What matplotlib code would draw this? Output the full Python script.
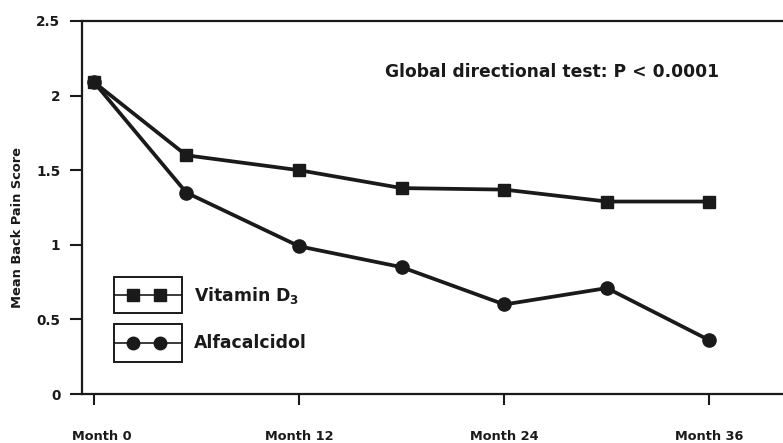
import numpy as np
import matplotlib.pyplot as plt
import matplotlib.transforms as mtransforms
from matplotlib.patches import Rectangle
from matplotlib.lines import Line2D

# visit months (second visit sits a bit before month 6 in the figure)
months = [0, 5.4, 12, 18, 24, 30, 36]
vitamin_d3 = [2.09, 1.60, 1.50, 1.38, 1.37, 1.29, 1.29]
alfacalcidol = [2.09, 1.35, 0.99, 0.85, 0.60, 0.71, 0.36]

xticks = [0, 12, 24, 36]
xtick_labels = ["Month 0", "Month 12", "Month 24", "Month 36"]
yticks = [0, 0.5, 1, 1.5, 2, 2.5]
ytick_labels = ["0", "0.5", "1", "1.5", "2", "2.5"]

ink = "#1a1a1a"
plt.rcParams['font.family'] = ['DejaVu Sans']
plt.rcParams['font.weight'] = 'bold'

fig = plt.figure(figsize=(7.83, 4.43), dpi=100)
ax = fig.add_axes([82/783, 49/443, 1 - 82/783, 373/443])

ax.plot(months, vitamin_d3, color=ink, lw=2.7, marker='s', ms=9, zorder=3)
ax.plot(months, alfacalcidol, color=ink, lw=2.7, marker='o', ms=9.5, zorder=3)

ax.set_xlim(-0.7, 40.3)
ax.set_ylim(0, 2.5)
ax.set_xticks(xticks)
ax.set_xticklabels(xtick_labels, fontsize=9.3, fontweight='bold')
ax.set_yticks(yticks)
ax.set_yticklabels(ytick_labels, fontsize=9.8, fontweight='bold')
ax.tick_params(axis='x', length=8, width=1.5, pad=18, colors=ink)
ax.tick_params(axis='y', length=8.5, width=1.5, pad=7, colors=ink)
for s in ['left', 'top', 'bottom']:
    ax.spines[s].set_linewidth(1.6)
    ax.spines[s].set_color(ink)
ax.spines['right'].set_visible(False)
ax.spines['top'].set_zorder(1)

# "Month 0" sits a little right of its tick in the original
lbl0 = ax.get_xticklabels()[0]
lbl0.set_transform(lbl0.get_transform() +
                   mtransforms.ScaledTranslation(8/100, 0, fig.dpi_scale_trans))

fig.text(18/783, 1 - 228/443, "Mean Back Pain Score", rotation=90,
         ha='center', va='center', fontsize=9.4, fontweight='bold', color=ink)

fig.text(385/783, 1 - 72/443, "Global directional test: P < 0.0001",
         fontsize=12.3, fontweight='bold', color=ink, ha='left', va='center')

# legend drawn as two boxed swatches
W, H = 783, 443
entries = [("s", r"Vitamin D$_3$", 277, 313), ("o", "Alfacalcidol", 324, 362)]
for mk, label, y0, y1 in entries:
    fig.add_artist(Rectangle((114/W, 1 - y1/H), 68/W, (y1 - y0)/H,
                             transform=fig.transFigure, fill=False, ec=ink, lw=1.4))
    yc = 1 - (y0 + y1)/2/H
    fig.add_artist(Line2D([114/W, 182/W], [yc, yc], transform=fig.transFigure,
                          color=ink, lw=1.2))
    fig.add_artist(Line2D([133/W, 160/W], [yc, yc], transform=fig.transFigure,
                          color=ink, lw=0, marker=mk, ms=9))
    fig.text(194/W, yc, label, fontsize=12.4, fontweight='bold', color=ink,
             ha='left', va='center')

fig.savefig("out.png", dpi=100)
